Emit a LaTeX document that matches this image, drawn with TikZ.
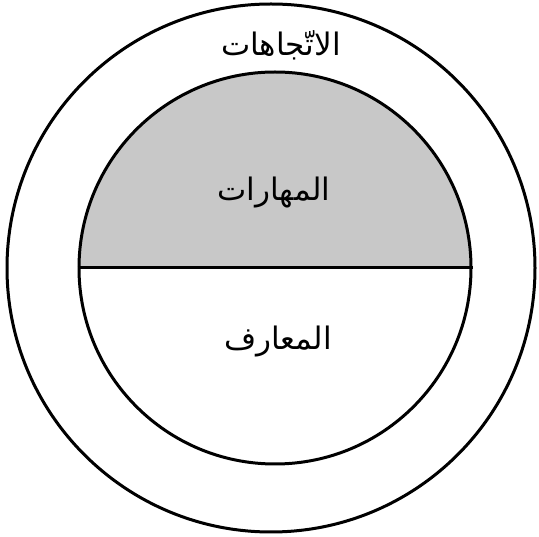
\documentclass[tikz,border=0pt]{standalone}
\usepackage{fontspec}
\newfontfamily\arabicfont[Script=Arabic]{DejaVu Sans}
\TeXXeTstate=1
\definecolor{skillgray}{HTML}{C8C8C8}

\begin{document}
\begin{tikzpicture}[
    x=1pt, y=-1pt,
    ring/.style={circle, draw=black, line width=3pt, inner sep=0pt},
    lbl/.style={font=\arabicfont\fontsize{31}{36}\selectfont, inner sep=0pt},
]
\useasboundingbox (0,0) rectangle (539,537);

% shaded upper half of the inner circle
\fill[skillgray] (79,268) arc[start angle=180, end angle=360, radius=196];

% circles
\node[ring, minimum size=528pt] (outer) at (271,268) {};
\node[ring, minimum size=392pt] (inner) at (275,268) {};

% divider
\draw[line width=3pt] (inner.west) -- (inner.east);

% labels
\node[lbl] (attitudes) at (281,45) {\beginR الاتّجاهات\endR};
\node[lbl] (skills) at (274,193) {\beginR المهارات\endR};
\node[lbl] (knowledge) at (278,342) {\beginR المعارف\endR};

\end{tikzpicture}
\end{document}
